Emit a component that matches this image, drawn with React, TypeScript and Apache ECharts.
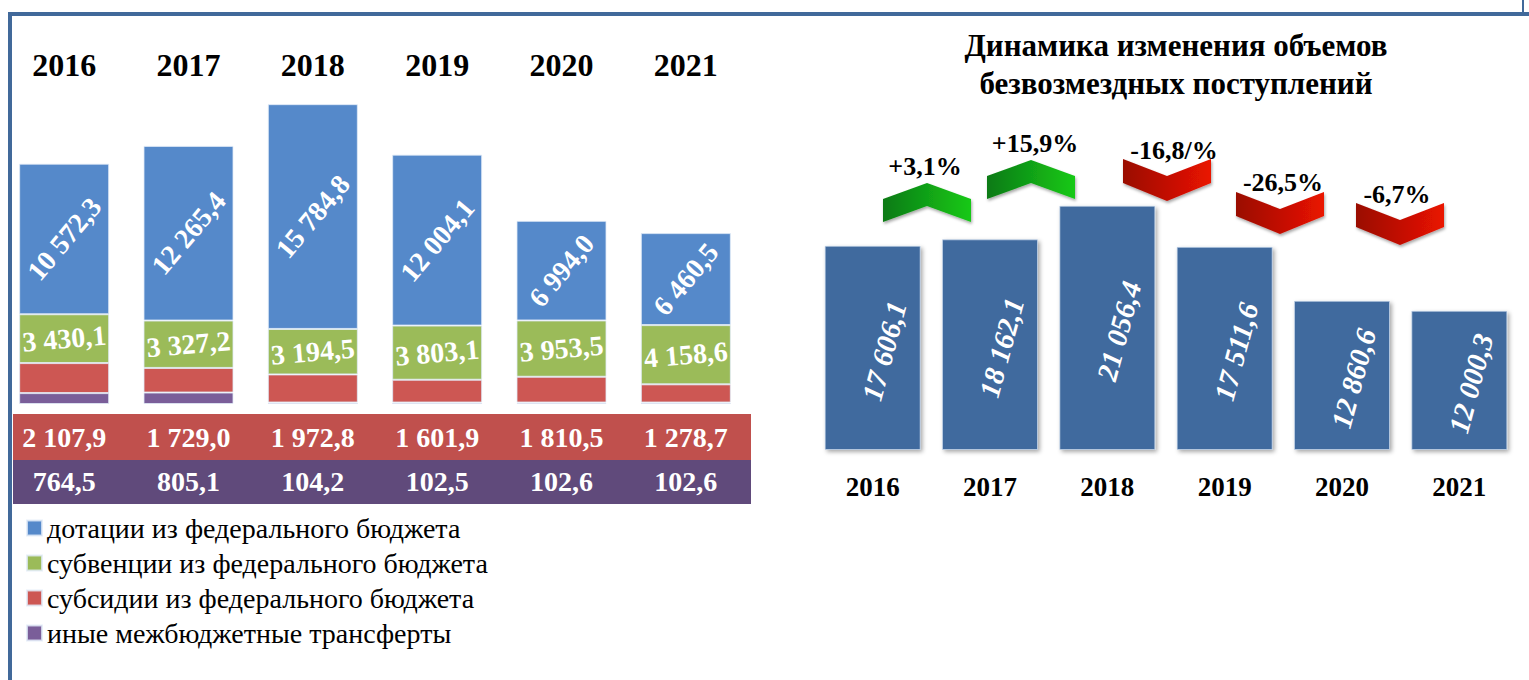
import React, { useEffect, useRef } from 'react';
import * as echarts from 'echarts';

const YEARS = ['2016', '2017', '2018', '2019', '2020', '2021'];
const DOTATIONS = [10572.3, 12265.4, 15784.8, 12004.1, 6994.0, 6460.5];
const SUBVENTIONS = [3430.1, 3327.2, 3194.5, 3803.1, 3953.5, 4158.6];
const SUBSIDIES = [2107.9, 1729.0, 1972.8, 1601.9, 1810.5, 1278.7];
const OTHER = [764.5, 805.1, 104.2, 102.5, 102.6, 102.6];
const TOTALS = [17606.1, 18162.1, 21056.4, 17511.6, 12860.6, 12000.3];
const CHANGES = ['+3,1%', '+15,9%', '-16,8/%', '-26,5%', '-6,7%'];
const SERIES_NAMES = [
  'дотации из федерального бюджета',
  'субвенции из федерального бюджета',
  'субсидии из федерального бюджета',
  'иные межбюджетные трансферты',
];
const TITLE = 'Динамика изменения объемов\nбезвозмездных поступлений';

// layout of the decorative chevrons (pixel positions, not data)
const CHEVRON_LAYOUT = [
  { cx: 927, y: 183, up: true, tx: 925, ty: 166 },
  { cx: 1031, y: 160, up: true, tx: 1035, ty: 143 },
  { cx: 1167, y: 159, up: false, tx: 1174, ty: 150 },
  { cx: 1280, y: 192, up: false, tx: 1283, ty: 182 },
  { cx: 1400, y: 203, up: false, tx: 1397, ty: 194 },
];

const SERIF = 'Liberation Serif, Times New Roman, DejaVu Serif, serif';

function fmt(v: number): string {
  const [i, d] = v.toFixed(1).split('.');
  return i.replace(/\B(?=(\d{3})+(?!\d))/g, ' ') + ',' + d;
}

function chevron(c: { cx: number; y: number; up: boolean }) {
  const hw = 44;
  const pts = c.up
    ? [
        [c.cx - hw, c.y + 16],
        [c.cx, c.y],
        [c.cx + hw, c.y + 16],
        [c.cx + hw, c.y + 39],
        [c.cx, c.y + 23],
        [c.cx - hw, c.y + 39],
      ]
    : [
        [c.cx - hw, c.y],
        [c.cx, c.y + 17],
        [c.cx + hw, c.y],
        [c.cx + hw, c.y + 24],
        [c.cx, c.y + 42],
        [c.cx - hw, c.y + 24],
      ];
  const fill = c.up
    ? new echarts.graphic.LinearGradient(0, 0, 1, 0, [
        { offset: 0, color: '#0b7a12' },
        { offset: 1, color: '#17c918' },
      ])
    : new echarts.graphic.LinearGradient(0, 0, 1, 0, [
        { offset: 0, color: '#9a0b02' },
        { offset: 1, color: '#ea1300' },
      ]);
  return {
    type: 'polygon',
    shape: { points: pts },
    style: {
      fill,
      shadowBlur: 3,
      shadowColor: 'rgba(0,0,0,0.35)',
      shadowOffsetX: 1,
      shadowOffsetY: 2,
    },
    z: 5,
  };
}

export default function App() {
  const ref = useRef<HTMLDivElement>(null);

  useEffect(() => {
    if (!ref.current) return;
    const chart = echarts.init(ref.current, undefined, { renderer: 'svg' });

    const leftColors = ['#5589CA', '#9BBB59', '#CD5753', '#7A5E99'];
    const leftData = [DOTATIONS, SUBVENTIONS, SUBSIDIES, OTHER];

    const labelBase = {
      show: true,
      position: 'inside',
      formatter: (p: any) => fmt(p.value),
      color: '#fff',
      fontFamily: SERIF,
      fontWeight: 'bold',
      fontSize: 28,
    };

    // bottom of the stack first: other, subsidies, subventions, dotations
    const leftSeries = [3, 2, 1, 0].map((i) => ({
      name: SERIES_NAMES[i],
      type: 'bar',
      stack: 'left',
      xAxisIndex: 0,
      yAxisIndex: 0,
      barWidth: 90,
      data: leftData[i],
      itemStyle: {
        color: leftColors[i],
        borderColor: 'rgba(225,235,248,0.8)',
        borderWidth: 1,
      },
      label:
        i === 0
          ? { ...labelBase, rotate: 50 }
          : i === 1
          ? { ...labelBase, rotate: 5 }
          : { show: false },
    }));

    const graphics: any[] = [
      { type: 'rect', shape: { x: 8, y: 12, width: 4, height: 668 }, style: { fill: '#41699A' }, z: 1 },
      { type: 'rect', shape: { x: 8, y: 12, width: 1521, height: 4 }, style: { fill: '#41699A' }, z: 1 },
      { type: 'rect', shape: { x: 1522, y: 0, width: 2, height: 14 }, style: { fill: '#41699A' }, z: 1 },
      { type: 'rect', shape: { x: 13, y: 414, width: 738, height: 46 }, style: { fill: '#C0504D' }, z: -1 },
      { type: 'rect', shape: { x: 13, y: 460, width: 738, height: 44 }, style: { fill: '#604A7B' }, z: -1 },
    ];
    CHEVRON_LAYOUT.forEach((c, i) => {
      graphics.push(chevron(c));
      graphics.push({
        type: 'text',
        x: c.tx,
        y: c.ty,
        z: 6,
        style: {
          text: CHANGES[i],
          fill: '#000',
          fontFamily: SERIF,
          fontWeight: 'bold',
          fontSize: 26,
          textAlign: 'center',
          textVerticalAlign: 'middle',
        },
      });
    });

    chart.setOption({
      animation: false,
      title: {
        text: TITLE,
        left: 1171,
        top: 21,
        textAlign: 'center',
        textStyle: {
          fontFamily: SERIF,
          fontWeight: 'bold',
          fontSize: 31,
          lineHeight: 38,
          color: '#000',
        },
      },
      legend: {
        orient: 'vertical',
        left: 26,
        top: 513,
        icon: 'rect',
        itemWidth: 15,
        itemHeight: 15,
        itemGap: 5,
        data: SERIES_NAMES,
        textStyle: {
          fontFamily: SERIF,
          fontSize: 28,
          lineHeight: 30,
          color: '#000',
        },
        padding: 0,
      },
      grid: [
        { left: 2, width: 746, top: 48, bottom: 276 },
        { left: 814, width: 704, top: 160, bottom: 230 },
      ],
      xAxis: [
        {
          type: 'category',
          gridIndex: 0,
          data: YEARS,
          position: 'top',
          axisLine: { show: false },
          axisTick: { show: false },
          axisLabel: {
            margin: -33,
            color: '#000',
            fontFamily: SERIF,
            fontWeight: 'bold',
            fontSize: 32,
          },
          z: 10,
        },
        {
          type: 'category',
          gridIndex: 0,
          data: SUBSIDIES.map(fmt),
          position: 'bottom',
          axisLine: { show: false },
          axisTick: { show: false },
          axisLabel: {
            margin: 19,
            color: '#fff',
            fontFamily: SERIF,
            fontWeight: 'bold',
            fontSize: 28,
          },
          z: 10,
        },
        {
          type: 'category',
          gridIndex: 0,
          data: OTHER.map(fmt),
          position: 'bottom',
          offset: 44,
          axisLine: { show: false },
          axisTick: { show: false },
          axisLabel: {
            margin: 19,
            color: '#fff',
            fontFamily: SERIF,
            fontWeight: 'bold',
            fontSize: 28,
          },
          z: 10,
        },
        {
          type: 'category',
          gridIndex: 1,
          data: YEARS,
          position: 'bottom',
          axisLine: { show: false },
          axisTick: { show: false },
          axisLabel: {
            margin: 23,
            color: '#000',
            fontFamily: SERIF,
            fontWeight: 'bold',
            fontSize: 27,
          },
        },
      ],
      yAxis: [
        { type: 'value', gridIndex: 0, min: 0, max: 25000, show: false, splitLine: { show: false } },
        { type: 'value', gridIndex: 1, min: 0, max: 25000, show: false, splitLine: { show: false } },
      ],
      series: [
        ...leftSeries,
        {
          name: 'Итого',
          type: 'bar',
          xAxisIndex: 3,
          yAxisIndex: 1,
          barWidth: 96,
          data: TOTALS,
          itemStyle: {
            color: '#3F6A9E',
            borderColor: 'rgba(200,215,235,0.7)',
            borderWidth: 1,
            shadowBlur: 4,
            shadowColor: 'rgba(0,0,0,0.35)',
            shadowOffsetX: 2,
            shadowOffsetY: 2,
          },
          label: {
            show: true,
            position: 'inside',
            rotate: 75,
            offset: [0, 12],
            formatter: (p: any) => fmt(p.value),
            color: '#fff',
            fontFamily: SERIF,
            fontWeight: 'bold',
            fontStyle: 'italic',
            fontSize: 29,
          },
        },
      ],
      graphic: graphics,
    });

    return () => chart.dispose();
  }, []);

  return (
    <div
      ref={ref}
      style={{ position: 'fixed', left: 0, top: 0, width: 1529, height: 680, background: '#fff' }}
    />
  );
}
